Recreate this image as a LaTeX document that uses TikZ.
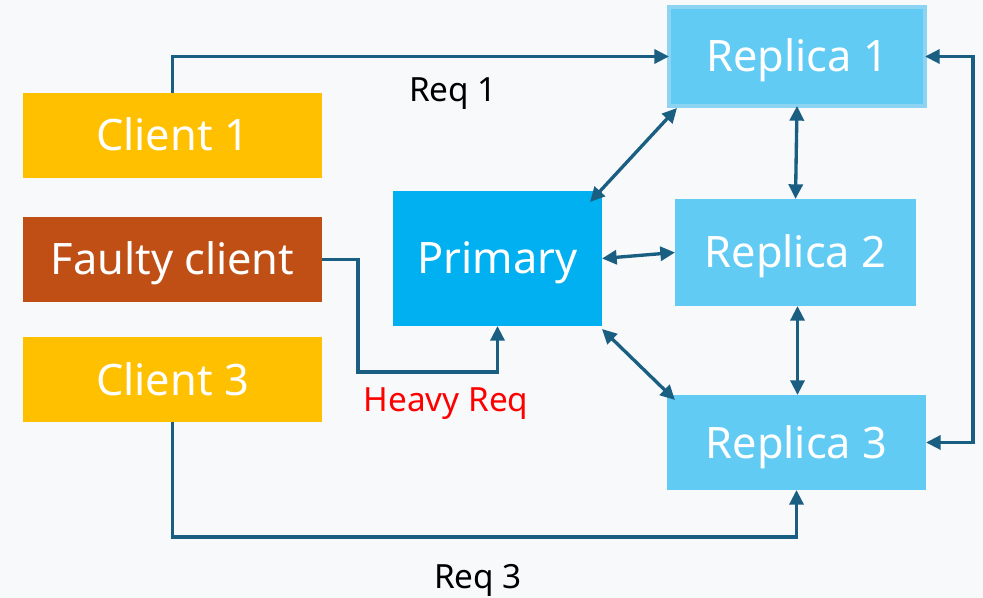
\documentclass[tikz,border=0pt]{standalone}
\usepackage{fontspec}
\setmainfont{Noto Sans}
\usetikzlibrary{arrows.meta,calc}

\definecolor{bgcol}{HTML}{F7F9FB}
\definecolor{linecol}{HTML}{1A5F82}
\definecolor{clientcol}{HTML}{FFC000}
\definecolor{faultcol}{HTML}{C04F15}
\definecolor{primcol}{HTML}{00B0F0}
\definecolor{repcol}{HTML}{61CBF4}
\definecolor{repedge}{HTML}{8DD3F2}

\tikzset{
  boxbase/.style={rectangle, inner sep=0pt, outer sep=0pt, text=white,
    font=\fontsize{26}{30}\selectfont, text height=18.6pt, text depth=0pt},
  clientbox/.style={boxbase, fill=clientcol, minimum width=179.4pt, minimum height=51pt},
  faultbox/.style={boxbase, fill=faultcol, minimum width=179.4pt, minimum height=51pt},
  primbox/.style={boxbase, fill=primcol, minimum width=125.4pt, minimum height=81pt},
  repbox/.style={boxbase, fill=repcol},
  conn/.style={draw=linecol, line width=2pt,
    -{Triangle[length=8.8pt,width=8.4pt]}},
  biconn/.style={draw=linecol, line width=2pt,
    {Triangle[length=8.8pt,width=8.4pt]}-{Triangle[length=8.8pt,width=8.4pt]}},
  reqlabel/.style={font=\fontsize{20}{24}\selectfont, inner sep=0pt, anchor=base}
}

\begin{document}
\begin{tikzpicture}[x=0.6pt, y=-0.6pt]
  % canvas
  \fill[bgcol] (0,0) rectangle (983,598);
  \useasboundingbox (0,0) rectangle (983,598);

  % clients
  \node[clientbox] (c1) at (172.5,135.5) {Client 1};
  \node[faultbox]  (fc) at (172.5,259.5) {Faulty client};
  \node[clientbox] (c3) at (172.5,379.5) {Client 3};

  % primary
  \node[primbox] (prim) at (497.5,258.5) {Primary};

  % replicas
  \node[repbox, draw=repedge, line width=2.4pt,
        minimum width=153.6pt, minimum height=59.4pt] (r1) at (797,56.5) {Replica 1};
  \node[repbox, minimum width=144.6pt, minimum height=64.2pt] (r2) at (795.5,252.5) {Replica 2};
  \node[repbox, minimum width=155.4pt, minimum height=57pt] (r3) at (796.5,442.5) {Replica 3};

  % bend points of the request routes
  \coordinate (hk) at (358,372);
  \coordinate (b3) at (480,537);
  \coordinate (rl) at (973,250);

  % client requests
  \draw[conn] (c1.north) |- (r1.west);
  \draw[conn] (fc.east) -| (hk) -| (prim.south);
  \draw[conn] (c3.south) |- (b3) -| (r3.south);

  % replica loop on the right
  \draw[biconn] (r1.east) -| (rl) |- (r3.east);

  % primary to replicas
  \draw[biconn] ($(prim.north east)+(-12,11)$) -- ($(r1.south west)+(8,2)$);
  \draw[biconn] (prim.east) -- (r2.west);
  \draw[biconn] ($(prim.south east)+(0,3)$) -- ($(r3.north west)+(8,5)$);

  % replica to replica
  \draw[biconn] (r1.south) -- (r2.north);
  \draw[biconn] ($(r2.south)+(2,0)$) -- ($(r3.north)+(1,0)$);

  % labels
  \node[reqlabel] (l1) at (453,102) {Req 1};
  \node[reqlabel, text=red] (lh) at (446,411) {Heavy Req};
  \node[reqlabel] (l3) at (478,588) {Req 3};
\end{tikzpicture}
\end{document}
